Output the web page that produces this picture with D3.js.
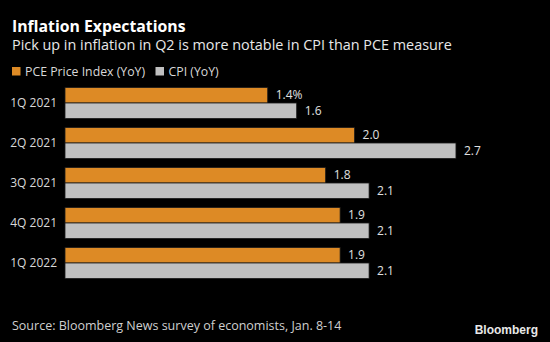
<!DOCTYPE html>
<html>
<head>
<meta charset="utf-8">
<script src="https://cdn.jsdelivr.net/npm/d3@7"></script>
<style>
  body { margin: 0; background: #000; }
  svg { display: block; background: #000; font-family: 'Open Sans', sans-serif; }
  .title { fill: #fff; font-weight: bold; font-size: 15.8px; }
  .subtitle { fill: #e8e8e8; font-size: 14.4px; }
  .legend-text { fill: #d8d8d8; font-size: 12.3px; }
  .cat-label { fill: #d8d8d8; font-size: 12px; }
  .val-label { fill: #e0e0e0; font-size: 12px; }
  .source { fill: #cfcfcf; font-size: 12.5px; }
  .logo { fill: #e8e8e8; font-weight: bold; font-size: 12px; font-family: 'Liberation Sans', Arial, sans-serif; }
</style>
</head>
<body>
<svg id="chart"></svg>
<script>
//chart data
var categories = ['1Q 2021', '2Q 2021', '3Q 2021', '4Q 2021', '1Q 2022'];
var seriesNames = ['PCE Price Index (YoY)', 'CPI (YoY)'];
var pceValues = [1.4, 2.0, 1.8, 1.9, 1.9];
var cpiValues = [1.6, 2.7, 2.1, 2.1, 2.1];
var seriesColors = ['#dd8a25', '#c0c0c0'];

function inflationChart() {
    //chart parameters
    var svg = d3.select('#chart')
        .attr('width', 550)
        .attr('height', 342);

    //build rows from arrays
    var data = categories.map((c, i) => ({
        cat: c,
        values: [
            {key: seriesNames[0], value: pceValues[i]},
            {key: seriesNames[1], value: cpiValues[i]}
        ]
    }));

    //define scales
    var xScale = d3.scaleLinear().domain([0, 1]).range([65, 65 + 144.8]),
        yScale = d3.scaleBand().domain(categories).range([87.5, 278.5]).paddingInner(0.225),
        subScale = d3.scaleBand().domain(seriesNames).range([0, yScale.bandwidth()]),
        colorScale = d3.scaleOrdinal().domain(seriesNames).range(seriesColors);

    //titles
    svg.append('text').attr('class', 'title').attr('x', 12).attr('y', 32).text('Inflation Expectations');
    svg.append('text').attr('class', 'subtitle').attr('x', 12).attr('y', 50)
        .text('Pick up in inflation in Q2 is more notable in CPI than PCE measure');

    //legend
    var legendX = [12, 155.5];
    var legend = svg.selectAll('.legend').data(seriesNames)
        .enter().append('g')
            .attr('class', 'legend')
            .attr('transform', (d, i) => 'translate(' + legendX[i] + ',67)');
    legend.append('rect')
        .attr('width', 8.5).attr('height', 8.5)
        .style('fill', d => colorScale(d));
    legend.append('text')
        .attr('class', 'legend-text')
        .attr('x', 13).attr('y', 8.8)
        .text(d => d);

    //category labels
    svg.selectAll('.cat-label').data(categories)
        .enter().append('text')
            .attr('class', 'cat-label')
            .attr('x', 57)
            .attr('y', d => yScale(d) + yScale.bandwidth() / 2)
            .attr('dy', '0.35em')
            .attr('text-anchor', 'end')
            .text(d => d);

    //bar groups
    var group = svg.selectAll('.group').data(data)
        .enter().append('g')
            .attr('class', 'group')
            .attr('transform', d => 'translate(0,' + yScale(d.cat) + ')');

    group.selectAll('rect').data(d => d.values)
        .enter().append('rect')
            .attr('x', xScale(0))
            .attr('y', d => subScale(d.key))
            .attr('width', d => xScale(d.value) - xScale(0))
            .attr('height', subScale.bandwidth())
            .style('fill', d => colorScale(d.key))
            .style('stroke', '#1a1a1a')
            .style('stroke-width', 0.8);

    //value labels
    group.selectAll('.val-label').data((d, gi) => d.values.map(v => Object.assign({gi: gi}, v)))
        .enter().append('text')
            .attr('class', 'val-label')
            .attr('x', d => xScale(d.value) + 8)
            .attr('y', d => subScale(d.key) + subScale.bandwidth() / 2)
            .attr('dy', '0.35em')
            .text((d, i) => d3.format('.1f')(d.value) + (d.gi === 0 && i === 0 ? '%' : ''));

    //footer
    svg.append('text').attr('class', 'source').attr('x', 12).attr('y', 330)
        .text('Source: Bloomberg News survey of economists, Jan. 8-14');
    svg.append('text').attr('class', 'logo').attr('x', 538).attr('y', 334)
        .attr('text-anchor', 'end').text('Bloomberg');
}

inflationChart();
</script>
</body>
</html>
